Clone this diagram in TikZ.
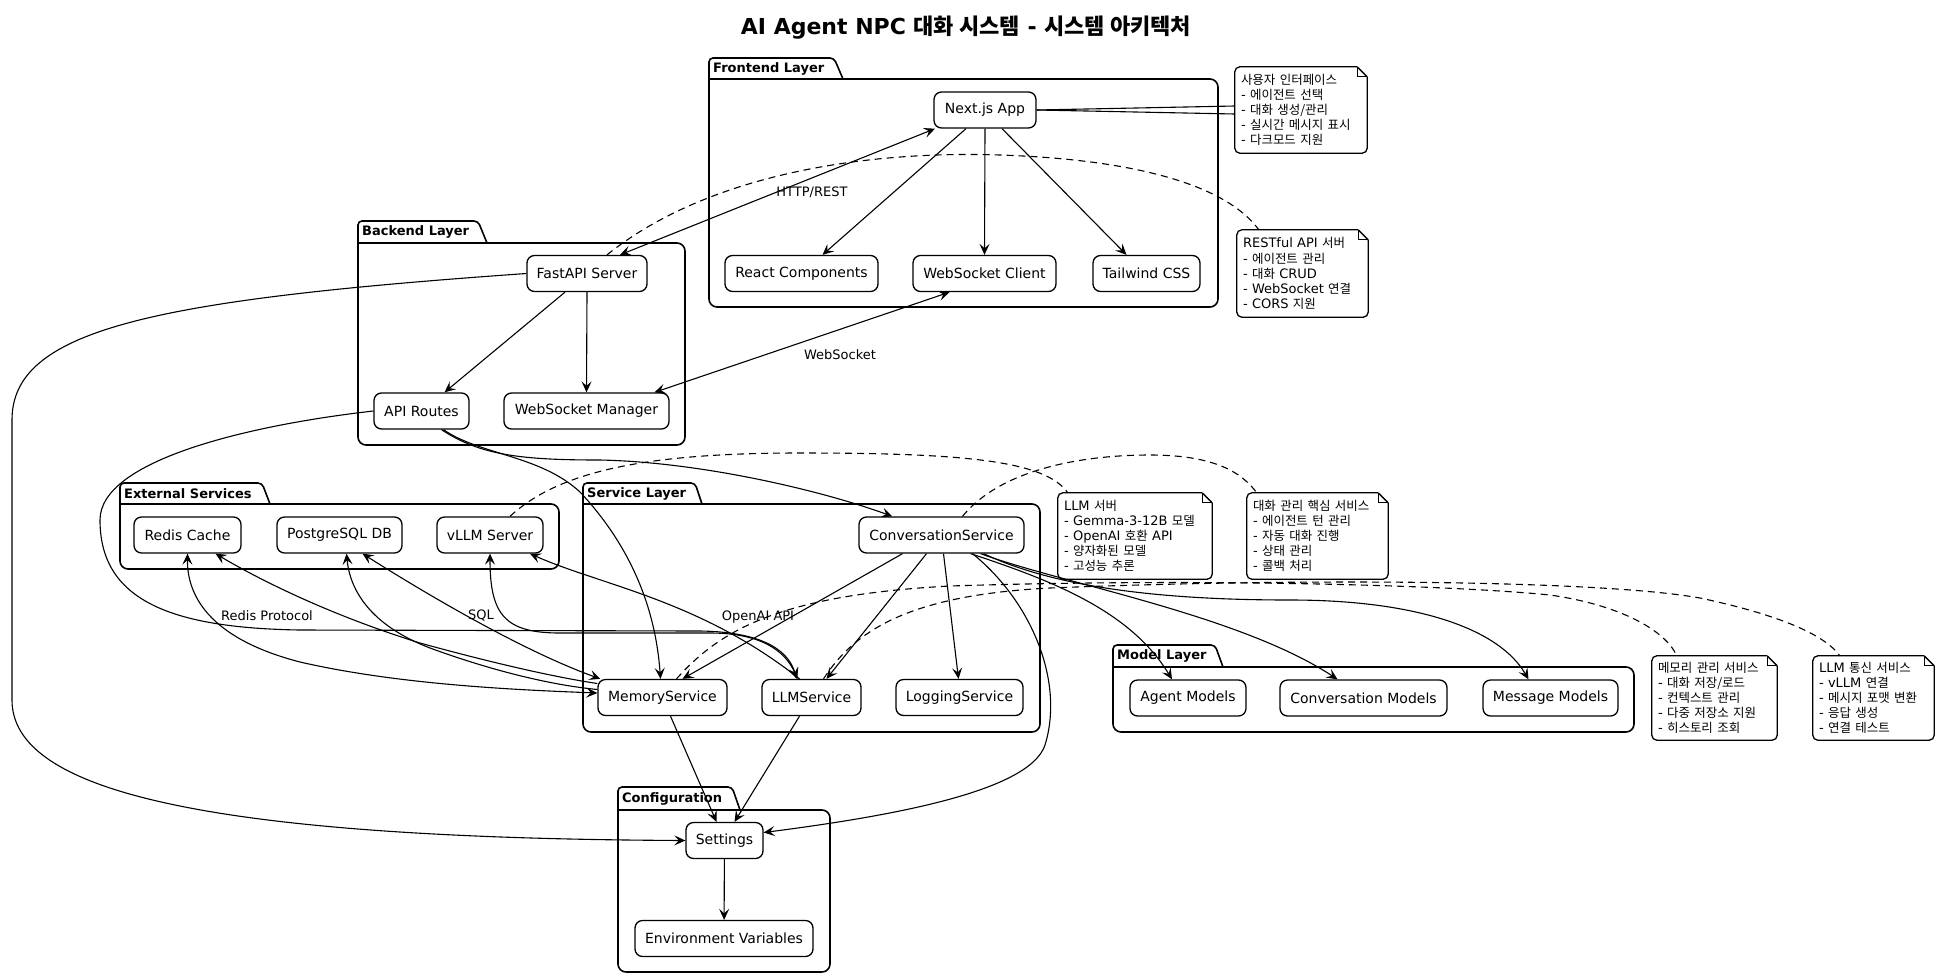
\documentclass[tikz,border=0pt]{standalone}
\usepackage{fontspec}
\setmainfont{DejaVu Sans}
\newfontfamily\krf[Scale=0.96]{Noto Sans CJK KR}
\newfontfamily\krt{Noto Sans CJK KR}
\usetikzlibrary{arrows.meta,calc}
\newcommand\ko[1]{{\krf #1}}
\newcommand\kot[1]{{\krt #1}}
\pgfdeclarelayer{pkg}
\pgfdeclarelayer{edges}
\pgfsetlayers{pkg,edges,main}
% x1 ytab ybody x2 y2 tabR1 tabR2 label name
\newcommand\pkgbox[9]{%
  \draw[pkgline,rounded corners=4pt] (#1,#3) -- (#1,#2) -- (#6,#2) -- (#7,#3);
  \draw[pkgline,rounded corners=8pt] (#1,#3) -- (#4,#3) -- (#4,#5) -- (#1,#5) -- (#1,#3);
  \node[pkgtitle] (#9) at (#1+4,{(#2+#3)/2}) {#8};}
\newcommand\notefold[1]{%
  \draw[noteline,rounded corners=5pt] ($(#1.north east)+(-10,0)$) -- (#1.north west) -- (#1.south west) -- (#1.south east) -- ($(#1.north east)+(0,10)$);
  \draw[noteline] ($(#1.north east)+(-10,0)$) -- ($(#1.north east)+(0,10)$);
  \draw[noteline] ($(#1.north east)+(-10,0)$) -- ($(#1.north east)+(-10,10)$) -- ($(#1.north east)+(0,10)$);}
\begin{document}
\begin{tikzpicture}[x=1pt,y=-1pt,line width=1.2pt,
  box/.style={draw,line width=1.3pt,fill=white,rounded corners=7.5pt,minimum height=36pt,inner sep=0pt,font=\fontsize{14}{16.8}\selectfont},
  elabel/.style={inner sep=0pt,font=\fontsize{13}{15}\selectfont},
  pkgtitle/.style={anchor=west,inner sep=0pt,font=\bfseries\fontsize{13}{15}\selectfont},
  pkgline/.style={line width=1.6pt},
  noteline/.style={line width=1.3pt},
  notetext/.style={inner sep=0pt,align=left,font=\fontsize{13}{15.1}\selectfont},
  ptip/.tip={Stealth[length=11pt,width=10pt,inset=4.5pt]},
  edge/.style={line width=1.1pt},
  arr/.style={edge,-ptip},
  arrb/.style={edge,ptip-ptip},
  arrs/.style={edge,ptip-},
  notelink/.style={edge,dash pattern=on 7pt off 5pt}]
\useasboundingbox (0,0) rectangle (1939,978);
\begin{pgfonlayer}{pkg}
\fill[white] (0,0) rectangle (1939,978);
\pkgbox{709}{58}{79}{1218}{307}{834}{843}{Frontend Layer}{pfront}
\pkgbox{358}{221}{243}{685}{445}{478}{487}{Backend Layer}{pback}
\pkgbox{120}{483}{504}{559}{569}{262}{270}{External Services}{pext}
\pkgbox{583}{483}{504}{1040}{732}{695}{702}{Service Layer}{psvc}
\pkgbox{1113}{645}{667}{1634}{732}{1215}{1223}{Model Layer}{pmodel}
\pkgbox{618}{787}{810}{830}{972}{732}{740}{Configuration}{pconf}
\end{pgfonlayer}

\node[inner sep=0pt,font=\bfseries\fontsize{22}{26}\selectfont] (title) at (966,28) {AI Agent NPC \kot{대화 시스템} - \kot{시스템 아키텍처}};

% nodes
\node[box,minimum width=102pt] (next) at (985,110) {Next.js App};
\node[box,minimum width=153pt] (react) at (801.5,273.5) {React Components};
\node[box,minimum width=143pt] (wsc) at (984.5,273.5) {WebSocket Client};
\node[box,minimum width=107pt] (tailwind) at (1146.5,273.5) {Tailwind CSS};
\node[box,minimum width=120pt] (fastapi) at (587,273.5) {FastAPI Server};
\node[box,minimum width=95pt] (apir) at (421.5,411) {API Routes};
\node[box,minimum width=165pt] (wsm) at (586.5,411) {WebSocket Manager};
\node[box,minimum width=107pt] (redis) at (187.5,535) {Redis Cache};
\node[box,minimum width=125pt] (pg) at (339.5,535) {PostgreSQL DB};
\node[box,minimum width=106pt] (vllm) at (490,535) {vLLM Server};
\node[box,minimum width=165pt] (conv) at (941.5,535) {ConversationService};
\node[box,minimum width=129pt] (mem) at (662.5,697.5) {MemoryService};
\node[box,minimum width=99pt] (llm) at (811.5,697.5) {LLMService};
\node[box,minimum width=127pt] (logs) at (959.5,697.5) {LoggingService};
\node[box,minimum width=116pt] (agentm) at (1188,698) {Agent Models};
\node[box,minimum width=167pt] (convm) at (1363.5,698) {Conversation Models};
\node[box,minimum width=135pt] (msgm) at (1550.5,698) {Message Models};
\node[box,minimum width=77pt] (settings) at (724.5,840.5) {Settings};
\node[box,minimum width=178pt] (env) at (724,938.5) {Environment Variables};

% notes
\node[notetext,minimum width=132pt,minimum height=86pt,text width=120pt] (n1) at (1301,110)
  {\ko{사용자 인터페이스}\\- \ko{에이전트 선택}\\- \ko{대화 생성/관리}\\- \ko{실시간 메시지 표시}\\- \ko{다크모드 지원}};
\notefold{n1}
\node[notetext,minimum width=131pt,minimum height=87pt,text width=119pt] (n2) at (1302.5,273.5)
  {RESTful API \ko{서버}\\- \ko{에이전트 관리}\\- \ko{대화} CRUD\\- WebSocket \ko{연결}\\- CORS \ko{지원}};
\notefold{n2}
\node[notetext,minimum width=154pt,minimum height=86pt,text width=142pt] (n3) at (1135,536)
  {LLM \ko{서버}\\- Gemma-3-12B \ko{모델}\\- OpenAI \ko{호환} API\\- \ko{양자화된 모델}\\- \ko{고성능 추론}};
\notefold{n3}
\node[notetext,minimum width=141pt,minimum height=86pt,text width=129pt] (n4) at (1317.5,536)
  {\ko{대화 관리 핵심 서비스}\\- \ko{에이전트 턴 관리}\\- \ko{자동 대화 진행}\\- \ko{상태 관리}\\- \ko{콜백 처리}};
\notefold{n4}
\node[notetext,minimum width=125pt,minimum height=84pt,text width=113pt] (n5) at (1714.5,698)
  {\ko{메모리 관리 서비스}\\- \ko{대화 저장/로드}\\- \ko{컨텍스트 관리}\\- \ko{다중 저장소 지원}\\- \ko{히스토리 조회}};
\notefold{n5}
\node[notetext,minimum width=121pt,minimum height=84pt,text width=109pt] (n6) at (1873.5,698)
  {LLM \ko{통신 서비스}\\- vLLM \ko{연결}\\- \ko{메시지 포맷 변환}\\- \ko{응답 생성}\\- \ko{연결 테스트}};
\notefold{n6}

% edge labels
\node[elabel] (lhttp) at (812,192) {HTTP/REST};
\node[elabel] (lws) at (840,355) {WebSocket};
\node[elabel] (lredis) at (267,616) {Redis Protocol};
\node[elabel] (lsql) at (481,616) {SQL};
\node[elabel] (lopenai) at (758,617) {OpenAI API};

\begin{pgfonlayer}{edges}
% frontend
\draw[arr] ($(next.south)+(-19,0)$) -- ($(react.north)+(21,0)$);
\draw[arr] (next.south) -- (wsc.north);
\draw[arr] ($(next.south)+(17,0)$) -- ($(tailwind.north)+(-20,0)$);
\draw[arrb] ($(fastapi.north)+(33,0)$) -- ($(next.south)+(-50,0)$);
\draw[arrb] ($(wsc.south)+(-35,0)$) -- ($(wsm.north)+(68,0)$);
% backend
\draw[arr] ($(fastapi.south)+(-22,0)$) -- ($(apir.north)+(23,0)$);
\draw[arr] (fastapi.south) -- (wsm.north);
\draw[arr] (fastapi.west) .. controls (150,300) and (12,330) .. (12,420) -- (12,700) .. controls (12,790) and (200,838) .. (settings.west);
\draw[arr] (apir.west) .. controls (250,425) and (100,460) .. (100,520) .. controls (100,600) and (170,628) .. (300,630) -- (700,631) .. controls (770,632) and (790,655) .. ($(llm.north)+(-15,0)$);
\draw[arr] ($(apir.south)+(22,0)$) .. controls (480,455) and (540,455) .. (580,492) .. controls (625,540) and (655,600) .. ($(mem.north)+(-2,0)$);
\draw[arr] ($(apir.south)+(20,0)$) .. controls (480,455) and (520,460) .. (600,460) .. controls (700,462) and (820,490) .. ($(conv.north west)+(34,0)$);
% external
\draw[arrb] (redis.south) .. controls (187,600) and (215,640) .. (300,662) .. controls (400,685) and (520,690) .. ($(mem.west)+(0,-4.5)$);
\draw[arrs] ($(redis.south)+(28,0)$) .. controls (260,580) and (330,615) .. (420,643) .. controls (500,665) and (560,678) .. ($(mem.west)+(0,-14)$);
\draw[arrs] ($(pg.south)+(7,0)$) .. controls (350,590) and (370,625) .. (430,648) .. controls (490,670) and (550,685) .. ($(mem.west)+(0,-8)$);
\draw[arrb] ($(pg.south)+(23,0)$) .. controls (420,590) and (520,650) .. ($(mem.north west)+(3,0)$);
\draw[arrb] (vllm.south) .. controls (490,615) and (505,633) .. (560,633) -- (710,633) .. controls (760,633) and (785,650) .. ($(llm.north)+(-14,0)$);
\draw[arrs] ($(vllm.south)+(40,0)$) .. controls (600,585) and (700,600) .. ($(llm.north)+(-12,0)$);
% service
\draw[arr] ($(conv.south)+(-39,0)$) -- ($(mem.north)+(20,0)$);
\draw[arr] ($(conv.south)+(-15,0)$) -- ($(llm.north)+(15,0)$);
\draw[arr] ($(conv.south)+(2,0)$) -- ($(logs.north)+(-1,0)$);
\draw[arr] ($(conv.south)+(31,0)$) .. controls (1030,600) and (1065,680) .. (1045,745) .. controls (1030,790) and (900,815) .. ($(settings.east)+(0,-8)$);
\draw[arr] ($(conv.south east)+(-54,0)$) .. controls (1050,580) and (1130,610) .. ($(agentm.north)+(-16,0)$);
\draw[arr] ($(conv.south east)+(-44,0)$) .. controls (1060,583) and (1240,615) .. ($(convm.north)+(-26,0)$);
\draw[arr] ($(conv.south east)+(-41,0)$) .. controls (1050,585) and (1150,600) .. (1290,600) .. controls (1420,600) and (1500,630) .. ($(msgm.north)+(-22,0)$);
\draw[arr] ($(mem.south)+(8,0)$) -- ($(settings.north)+(-8,0)$);
\draw[arr] ($(llm.south)+(-12,0)$) -- ($(settings.north)+(10,0)$);
\draw[arr] (settings) -- (env);
% note links
\draw[edge] (next.east) -- ($(n1.west)+(0,-4)$);
\draw[edge] (next.east) -- ($(n1.west)+(0,4)$);
\draw[notelink] ($(fastapi.north)+(20,0)$) .. controls (700,180) and (850,150) .. (1000,155) .. controls (1150,160) and (1230,190) .. ($(n2.north west)+(22,0)$);
\draw[notelink] ($(vllm.north)+(20,0)$) .. controls (560,470) and (650,453) .. (800,453) .. controls (960,453) and (1045,460) .. ($(n3.north west)+(10,0)$);
\draw[notelink] ($(conv.north)+(21,0)$) .. controls (1000,470) and (1080,455) .. (1150,455) .. controls (1210,455) and (1240,470) .. ($(n4.north west)+(10,0)$);
\draw[notelink] ($(mem.north)+(14,0)$) .. controls (720,630) and (780,595) .. (950,586) .. controls (1200,578) and (1450,585) .. (1550,595) .. controls (1620,605) and (1665,630) .. ($(n5.north west)+(25,0)$);
\draw[notelink] ($(llm.north)+(12,0)$) .. controls (855,630) and (910,595) .. (1050,588) .. controls (1300,578) and (1600,580) .. (1700,598) .. controls (1780,615) and (1825,635) .. ($(n6.north west)+(27,0)$);
\end{pgfonlayer}
\end{tikzpicture}
\end{document}
